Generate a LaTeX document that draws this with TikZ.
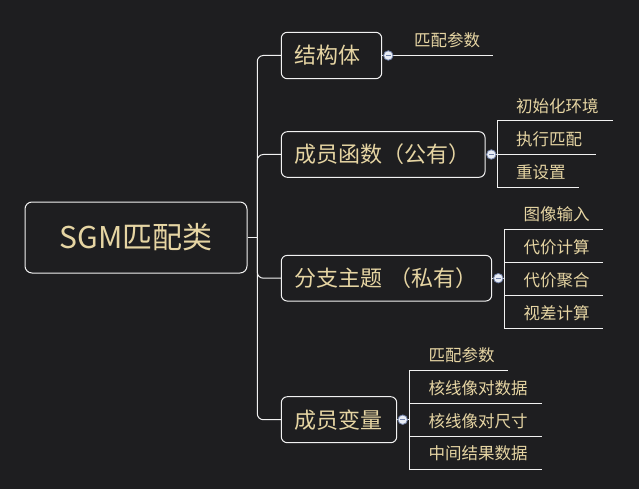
\documentclass[tikz,border=0pt]{standalone}
\usepackage{fontspec}
\setmainfont{Noto Sans CJK SC}
\definecolor{bg}{HTML}{1E1E20}
\definecolor{txt}{HTML}{E6D5A3}
\definecolor{lncol}{HTML}{F2F2F2}
\definecolor{dotfill}{HTML}{E8ECF4}
\definecolor{dotedge}{HTML}{7080A8}
\tikzset{
  conn/.style={draw=lncol, line width=1pt},
  rootbox/.style={draw=lncol, line width=1pt, rounded corners=7pt, text=txt,
    font=\fontsize{30}{36}\selectfont, inner sep=0pt},
  branchbox/.style={draw=lncol, line width=1pt, rounded corners=6pt, text=txt,
    font=\fontsize{22}{26}\selectfont, inner ysep=0pt, inner xsep=13pt, align=left},
  leaf/.style={text=txt, font=\fontsize{16.5}{20}\selectfont, inner sep=0pt, anchor=west},
  fold/.style={circle, draw=dotedge, fill=dotfill, line width=0.8pt, minimum size=9.5pt,
    inner sep=0pt, path picture={\draw[dotedge, line width=1.1pt]
      ([xshift=-2.3pt]path picture bounding box.center) --
      ([xshift=2.3pt]path picture bounding box.center);}},
}
\begin{document}
\begin{tikzpicture}[x=1pt,y=-1pt]
\fill[bg] (0,0) rectangle (639,489);
\useasboundingbox (0,0) rectangle (639,489);

% main nodes
\node[rootbox, minimum width=222pt, minimum height=71pt] (root) at (136,237.5) {SGM匹配类};
\node[branchbox, text width=74.4pt, minimum height=46.4pt] (b1) at (331.5,55.5) {结构体};
\node[branchbox, text width=177.7pt, minimum height=45.6pt] (b2) at (383.2,154.5) {成员函数（公有）};
\node[branchbox, text width=184.4pt, minimum height=45.7pt] (b3) at (386.5,278.2) {分支主题 （私有）};
\node[branchbox, text width=89.4pt, minimum height=46pt] (b4) at (339,419.7) {成员变量};

% trunk
\coordinate (T) at (257.3,237.5);
\draw[conn] (root.east) -- (T);
\draw[conn, rounded corners=6pt] (T) |- (b1.west);
\draw[conn, rounded corners=6pt] (T) |- (b2.west);
\draw[conn, rounded corners=6pt] (T) |- (b3.west);
\draw[conn, rounded corners=6pt] (T) |- (b4.west);

% fold markers positions
\coordinate (f1p) at (388.3,55.5);
\coordinate (f2p) at (491.3,154.5);
\coordinate (f3p) at (498.3,278.2);
\coordinate (f4p) at (402.7,419.7);

% group 1
\coordinate (e11) at (492.7,55.5);
\draw[conn] (b1.east) -- (e11);
\node[leaf] (l11) at (414,40.7) {匹配参数};

% group 2
\coordinate (j2) at (497.3,154.5);
\coordinate (j2t) at (497.3,121);
\coordinate (j2b) at (497.3,187.3);
\coordinate (e21) at (612.7,121);
\coordinate (e22) at (596,154.5);
\coordinate (e23) at (579,187.3);
\draw[conn] (b2.east) -- (j2);
\draw[conn] (j2t) -- (j2b);
\draw[conn] (j2t) -- (e21);
\draw[conn] (j2) -- (e22);
\draw[conn] (j2b) -- (e23);
\node[leaf] (l21) at (516,106) {初始化环境};
\node[leaf] (l22) at (516,139) {执行匹配};
\node[leaf] (l23) at (516,172) {重设置};

% group 3
\coordinate (j3) at (504.3,278.2);
\coordinate (j3a) at (504.3,229.3);
\coordinate (j3b) at (504.3,262.3);
\coordinate (j3c) at (504.3,295.3);
\coordinate (j3d) at (504.3,328.3);
\coordinate (e31) at (602.7,229.3);
\coordinate (e32) at (602.7,262.3);
\coordinate (e33) at (602.7,295.3);
\coordinate (e34) at (602.7,328.3);
\draw[conn] (b3.east) -- (j3);
\draw[conn] (j3a) -- (j3d);
\draw[conn] (j3a) -- (e31);
\draw[conn] (j3b) -- (e32);
\draw[conn] (j3c) -- (e33);
\draw[conn] (j3d) -- (e34);
\node[leaf] (l31) at (523.3,214.7) {图像输入};
\node[leaf] (l32) at (523.3,247.7) {代价计算};
\node[leaf] (l33) at (523.3,280.3) {代价聚合};
\node[leaf] (l34) at (523.3,313.3) {视差计算};

% group 4
\coordinate (j4) at (409.3,419.7);
\coordinate (j4a) at (409.3,370);
\coordinate (j4b) at (409.3,403.3);
\coordinate (j4c) at (409.3,436.3);
\coordinate (j4d) at (409.3,469.3);
\coordinate (e41) at (507.7,370);
\coordinate (e42) at (541.7,403.3);
\coordinate (e43) at (541.7,436.3);
\coordinate (e44) at (541.7,469.3);
\draw[conn] (b4.east) -- (j4);
\draw[conn] (j4a) -- (j4d);
\draw[conn] (j4a) -- (e41);
\draw[conn] (j4b) -- (e42);
\draw[conn] (j4c) -- (e43);
\draw[conn] (j4d) -- (e44);
\node[leaf] (l41) at (428.3,355.7) {匹配参数};
\node[leaf] (l42) at (428.3,388.3) {核线像对数据};
\node[leaf] (l43) at (428.3,421) {核线像对尺寸};
\node[leaf] (l44) at (428.3,453.3) {中间结果数据};

% fold markers
\node[fold] (f1) at (f1p) {};
\node[fold] (f2) at (f2p) {};
\node[fold] (f3) at (f3p) {};
\node[fold] (f4) at (f4p) {};
\end{tikzpicture}
\end{document}
